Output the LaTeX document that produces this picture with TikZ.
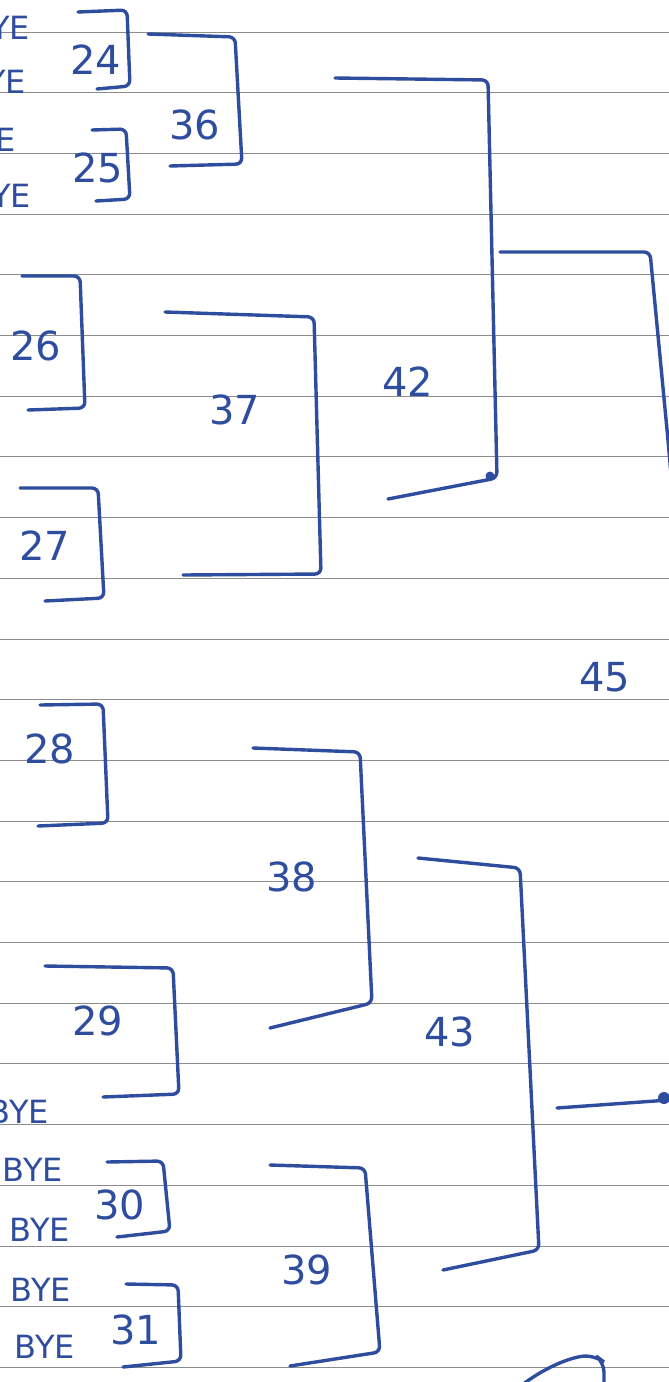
\documentclass[tikz,border=0pt]{standalone}
\usepackage{fontspec}
\setmainfont{DejaVu Sans}
\definecolor{inkblue}{HTML}{2F4D9E}
\definecolor{ruleline}{HTML}{8C8C8C}

\begin{document}
\begin{tikzpicture}[x=1pt, y=-1pt,
    every node/.style={font=\fontsize{40}{42}\selectfont, text=inkblue, inner sep=0pt},
    bracket/.style={draw=inkblue, line width=3.4pt, rounded corners=6pt, line cap=round},
    ruled/.style={draw=ruleline, line width=1pt},
    byename/.style={font=\fontsize{32}{34}\selectfont, anchor=east},
]
\useasboundingbox (0,0) rectangle (669,1382);
\clip (0,0) rectangle (669,1382);

% Ruled paper
\foreach \k in {0,...,22} {
    \draw[ruled] (0, 32+60.7*\k) -- (669, 32+60.7*\k);
}

% BYE entries (cut at the left edge)
\node[byename] (bye1) at (30, 28) {BYE};
\node[byename] (bye2) at (26, 82) {BYE};
\node[byename] (bye3) at (16, 140) {BYE};
\node[byename] (bye4) at (31, 196) {BYE};
\node[byename] (bye5) at (49, 1112) {BYE};
\node[byename] (bye6) at (63, 1170) {BYE};
\node[byename] (bye7) at (70, 1230) {BYE};
\node[byename] (bye8) at (71, 1290) {BYE};
\node[byename] (bye9) at (75, 1347) {BYE};

% First round brackets
\draw[bracket] (78, 12) -- (127, 10) -- (130, 86) -- (97, 89);
\node (m24) at (96, 60) {24};
\draw[bracket] (92, 130) -- (126, 129) -- (130, 199) -- (96, 201);
\node (m25) at (98, 168) {25};
\draw[bracket] (22, 276) -- (80, 276) -- (85, 408) -- (28, 410);
\node (m26) at (36, 346) {26};
\draw[bracket] (20, 488) -- (98, 488) -- (104, 598) -- (45, 601);
\node (m27) at (45, 546) {27};
\draw[bracket] (40, 705) -- (103, 704) -- (108, 823) -- (38, 826);
\node (m28) at (50, 749) {28};
\draw[bracket] (45, 966) -- (173, 968) -- (179, 1094) -- (103, 1097);
\node (m29) at (98, 1021) {29};
\draw[bracket] (107, 1162) -- (163, 1161) -- (170, 1231) -- (117, 1237);
\node (m30) at (120, 1205) {30};
\draw[bracket] (126, 1284) -- (178, 1285) -- (181, 1361) -- (123, 1367);
\node (m31) at (136, 1330) {31};

% Second round brackets
\draw[bracket] (148, 34) -- (235, 37) -- (242, 164) -- (170, 166);
\node (m36) at (195, 125) {36};
\draw[bracket] (165, 312) -- (314, 317) -- (321, 574) -- (183, 575);
\node (m37) at (235, 410) {37};
\draw[bracket] (253, 748) -- (360, 752) -- (372, 1003) -- (270, 1028);
\node (m38) at (292, 877) {38};
\draw[bracket] (270, 1165) -- (365, 1168) -- (380, 1352) -- (290, 1366);
\node (m39) at (307, 1270) {39};

% Third round brackets
\draw[bracket] (335, 78) -- (488, 80) -- (497, 478) -- (388, 499);
\fill[inkblue] (490, 476) circle (4.5pt);
\node (m42) at (408, 382) {42};
\draw[bracket] (418, 858) -- (520, 868) -- (539, 1250) -- (443, 1270);
\node (m43) at (450, 1032) {43};

% Final bracket
\draw[bracket] (500, 252) -- (650, 252) -- (668, 440) -- (675, 520);
\draw[bracket] (557, 1108) -- (669, 1100);
\fill[inkblue] (664, 1098) circle (6pt);
\node (m45) at (605, 677) {45};

% Start of the next bracket at the bottom edge
\draw[bracket, rounded corners=10pt] (522, 1385) .. controls (548, 1365) and (575, 1356) .. (596, 1356) -- (604, 1362) -- (604, 1385);

\end{tikzpicture}
\end{document}
